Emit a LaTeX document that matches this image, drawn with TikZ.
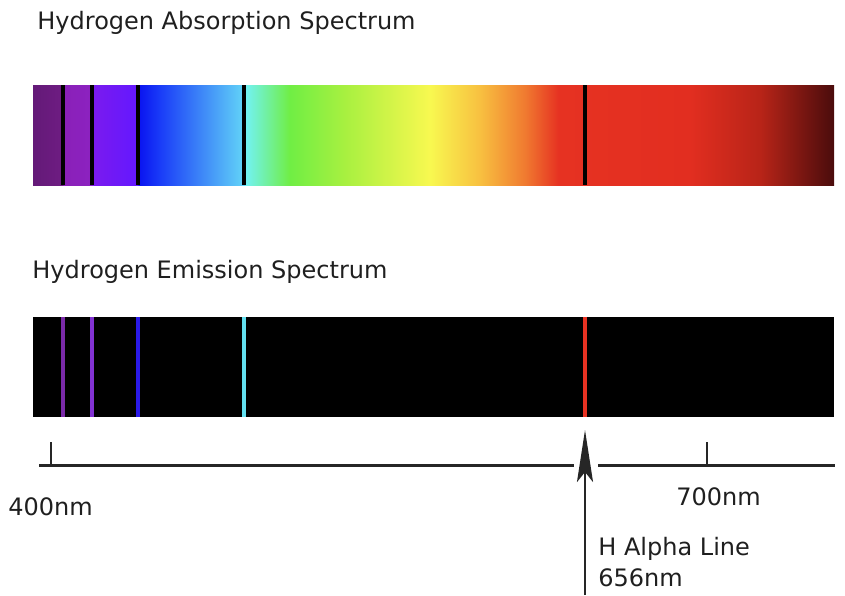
\documentclass[tikz,border=0pt]{standalone}
\usepackage{fontspec}
\setmainfont{DejaVu Sans}
\usetikzlibrary{arrows.meta}

\definecolor{emitviolet}{HTML}{7A2AA8}
\definecolor{emitpurple}{HTML}{8232D2}
\definecolor{emitblue}{HTML}{2A1AE8}
\definecolor{emitcyan}{HTML}{62E0F0}
\definecolor{emitred}{HTML}{E83222}

% visible spectrum, bar edges sit at 25bp and 75bp
\pgfdeclarehorizontalshading{hspectrum}{100bp}{%
	color(0bp)=(rgb,255:red,100;green,26;blue,120);
	color(25bp)=(rgb,255:red,100;green,26;blue,120);
	color(26.81bp)=(rgb,255:red,110;green,28;blue,130);
	color(26.94bp)=(rgb,255:red,138;green,32;blue,184);
	color(28.62bp)=(rgb,255:red,140;green,34;blue,192);
	color(28.75bp)=(rgb,255:red,122;green,26;blue,238);
	color(31.49bp)=(rgb,255:red,100;green,24;blue,255);
	color(31.62bp)=(rgb,255:red,10;green,20;blue,240);
	color(32.93bp)=(rgb,255:red,26;green,60;blue,248);
	color(38.17bp)=(rgb,255:red,98;green,212;blue,248);
	color(38.30bp)=(rgb,255:red,114;green,242;blue,242);
	color(41.04bp)=(rgb,255:red,112;green,238;blue,68);
	color(44.48bp)=(rgb,255:red,168;green,240;blue,64);
	color(49.78bp)=(rgb,255:red,248;green,248;blue,80);
	color(52.90bp)=(rgb,255:red,248;green,192;blue,64);
	color(55.71bp)=(rgb,255:red,240;green,122;blue,48);
	color(57.80bp)=(rgb,255:red,230;green,50;blue,34);
	color(66.01bp)=(rgb,255:red,226;green,46;blue,32);
	color(70.38bp)=(rgb,255:red,184;green,36;blue,24);
	color(75bp)=(rgb,255:red,74;green,12;blue,12);
	color(100bp)=(rgb,255:red,74;green,12;blue,12)}

\newcommand*{\barleft}{33}
\newcommand*{\barright}{834}
\newcommand*{\axisy}{465}

\begin{document}
\begin{tikzpicture}
[
	x=0.5pt, y=-0.5pt,
	label/.style={anchor=base west,inner sep=0pt,font=\fontsize{12}{14}\selectfont,text=black!88},
	darkline/.style={line width=2pt,black},
	emitline/.style={line width=2.2pt},
	axisline/.style={line width=1.5pt,black!85},
	tickline/.style={line width=1pt,black!85}
]
	\useasboundingbox (0,0) rectangle (845,595);

	% titles
	\node[label] (abstitle) at (37,29.5) {Hydrogen Absorption Spectrum};
	\node[label] (emititle) at (32,278) {Hydrogen Emission Spectrum};

	% absorption bar
	\shade[shading=hspectrum] (\barleft,85) rectangle (\barright,185);
	\foreach \x in {63,92,138,244,585} {
		\draw[darkline] (\x,85) -- (\x,185);
	}

	% emission bar
	\fill[black] (\barleft,317) rectangle (\barright,417);
	\foreach \x/\c in {63/emitviolet,92/emitpurple,138/emitblue,244/emitcyan,585/emitred} {
		\draw[emitline,\c] (\x,317) -- (\x,417);
	}

	% scale
	\draw[axisline] (39,\axisy) -- (574,\axisy);
	\draw[axisline] (598,\axisy) -- (835,\axisy);
	\foreach \x in {51,707} {
		\draw[tickline] (\x,442) -- (\x,\axisy);
	}
	\node[label] (nm400) at (8,515) {400nm};
	\node[label] (nm700) at (676,505) {700nm};

	% h alpha
	\coordinate (alphabot) at (585,595);
	\coordinate (alphatip) at (585,430);
	\draw[line width=1.4pt,black!85,-{Stealth[length=26pt,width=8pt,inset=5pt]}] (alphabot) -- (alphatip);
	\node[label] (alphaname) at (598,555) {H Alpha Line};
	\node[label] (alphanm) at (598,586) {656nm};

\end{tikzpicture}
\end{document}
